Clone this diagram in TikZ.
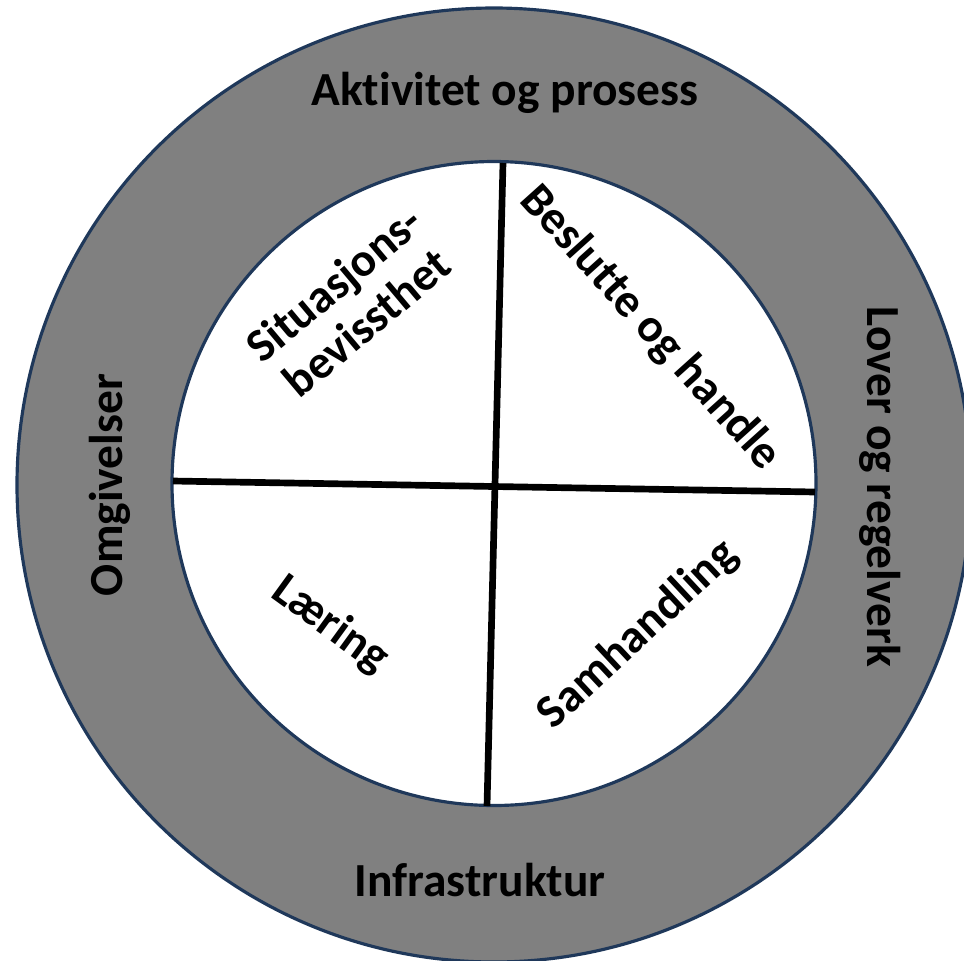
\documentclass[tikz,border=0pt]{standalone}
\usepackage{fontspec}
\setmainfont{Carlito}[Ligatures=NoCommon]
\definecolor{ringblue}{RGB}{31,56,90}
\definecolor{ringgray}{RGB}{128,128,128}

\begin{document}
\begin{tikzpicture}[
  ringtext/.style={font=\fontsize{13.5}{16}\selectfont\bfseries},
  quadtext/.style={font=\fontsize{13.4}{14.5}\selectfont\bfseries, align=center},
  divider/.style={line width=1.9pt},
]
  \useasboundingbox (0,0) rectangle (9.64,9.60);

  % Rings
  \fill[ringgray, draw=ringblue, line width=0.9pt] (4.94,4.75) circle (4.77);
  \fill[white, draw=ringblue, line width=0.9pt] (4.94,4.765) circle (3.22);

  % Dividers
  \coordinate (top)   at (5.03,7.97);
  \coordinate (bot)   at (4.87,1.54);
  \coordinate (left)  at (1.73,4.79);
  \coordinate (right) at (8.15,4.68);
  \draw[divider] (top) -- (bot);
  \draw[divider] (left) -- (right);

  % Outer ring labels
  \node[ringtext] (aktivitet) at (5.05,8.67) {Aktivitet og prosess};
  \node[ringtext] (infra)     at (4.80,0.80) {Infrastruktur};
  \node[ringtext, rotate=90]  (omgiv) at (1.10,4.75) {Omgivelser};
  \node[ringtext, rotate=-90] (lover) at (8.80,4.73) {Lover og regelverk};

  % Quadrants
  \node[quadtext, rotate=40]  (situasjon) at (3.50,6.57) {Situasjons-\\bevissthet};
  \node[quadtext, rotate=-48] (beslutte)  at (6.50,6.32) {Beslutte og handle};
  \node[quadtext, rotate=-36] (laering)   at (3.30,3.35) {Læring};
  \node[quadtext, rotate=43]  (samhand)   at (6.38,3.25) {Samhandling};

\end{tikzpicture}
\end{document}
